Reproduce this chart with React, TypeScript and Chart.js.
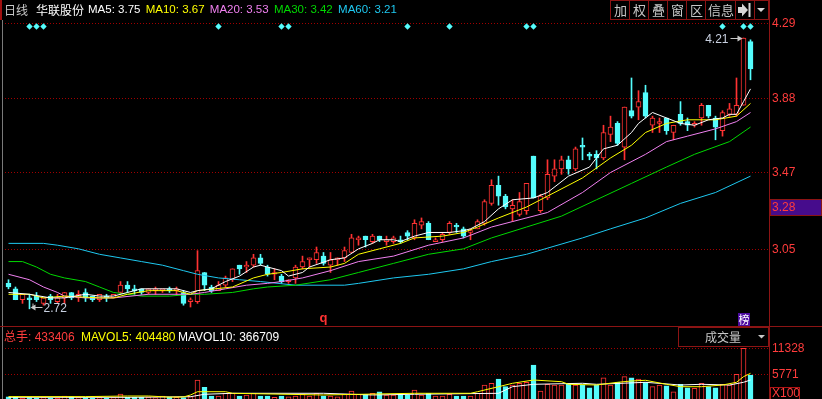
import React, { useEffect, useRef } from 'react';
import { Chart, registerables } from 'chart.js';

Chart.register(...registerables);

// ---------------- data ----------------
const OPEN = [2.86,2.83,2.77,2.78,2.79,2.75,2.79,2.76,2.78,2.81, 2.78,2.81,2.79,2.77,2.79,2.78,2.81,2.85,2.83,2.83, 2.81,2.82,2.82,2.83,2.82,2.81,2.76,2.76,2.92,2.84, 2.82,2.85,2.88,2.96,2.95,2.96,3.00,2.95,2.91,2.90, 2.87,2.89,2.95,2.99,2.99,3.01,2.96,2.99,3.00,3.03, 3.10,3.12,3.09,3.12,3.09,3.09,3.10,3.14,3.11,3.18, 3.19,3.09,3.10,3.14,3.18,3.16,3.14,3.16,3.19,3.30, 3.40,3.34,3.27,3.24,3.26,3.56,3.26,3.33,3.45,3.49, 3.54,3.49,3.62,3.57,3.57,3.55,3.68,3.74,3.61,3.81, 3.83,3.91,3.73,3.74,3.77,3.69,3.79,3.75,3.73,3.77, 3.84,3.77,3.70,3.79,3.79,3.84,4.19];
const HIGH = [2.88,2.84,2.80,2.80,2.81,2.78,2.80,2.80,2.81,2.81, 2.82,2.83,2.79,2.80,2.80,2.80,2.87,2.87,2.85,2.83, 2.83,2.84,2.83,2.84,2.84,2.82,2.78,3.04,2.92,2.85, 2.87,2.90,2.94,2.96,2.98,3.02,3.02,2.96,2.94,2.91, 2.88,2.96,3.01,3.00,3.06,3.03,3.03,3.00,3.06,3.13, 3.12,3.12,3.13,3.12,3.12,3.12,3.12,3.15,3.21,3.22, 3.20,3.11,3.14,3.20,3.19,3.17,3.16,3.21,3.32,3.43, 3.45,3.35,3.32,3.36,3.41,3.56,3.35,3.54,3.54,3.56, 3.56,3.61,3.66,3.58,3.59,3.73,3.78,3.75,3.83,3.99, 3.92,3.95,3.78,3.77,3.77,3.73,3.86,3.77,3.75,3.85, 3.84,3.78,3.81,3.85,3.99,4.21,4.20];
const LOW = [2.83,2.77,2.75,2.72,2.76,2.74,2.75,2.75,2.75,2.77, 2.76,2.76,2.76,2.76,2.76,2.78,2.80,2.81,2.80,2.80, 2.80,2.80,2.81,2.81,2.80,2.74,2.73,2.75,2.82,2.81, 2.82,2.84,2.87,2.91,2.92,2.95,2.96,2.90,2.88,2.86, 2.86,2.86,2.94,2.95,2.97,2.96,2.92,2.96,2.98,3.03, 3.07,3.06,3.08,3.09,3.07,3.08,3.08,3.10,3.10,3.16, 3.10,3.09,3.09,3.13,3.14,3.11,3.10,3.16,3.18,3.29, 3.29,3.27,3.20,3.23,3.24,3.33,3.25,3.32,3.42,3.46, 3.46,3.48,3.54,3.54,3.49,3.54,3.64,3.62,3.54,3.77, 3.76,3.77,3.69,3.69,3.68,3.65,3.73,3.70,3.72,3.73, 3.77,3.65,3.67,3.78,3.78,3.84,3.98];
const CLOSE = [2.84,2.77,2.80,2.77,2.77,2.78,2.77,2.78,2.81,2.78, 2.80,2.78,2.77,2.80,2.78,2.80,2.85,2.83,2.82,2.81, 2.83,2.83,2.83,2.82,2.83,2.75,2.77,2.93,2.85,2.82, 2.85,2.89,2.94,2.94,2.96,3.00,2.97,2.91,2.92,2.87, 2.88,2.95,2.98,3.00,3.03,2.97,2.99,3.00,3.04,3.11, 3.11,3.10,3.12,3.10,3.10,3.11,3.09,3.12,3.19,3.20, 3.10,3.10,3.13,3.19,3.17,3.12,3.15,3.20,3.31,3.40, 3.34,3.28,3.29,3.31,3.41,3.33,3.34,3.46,3.49,3.54, 3.49,3.60,3.61,3.56,3.55,3.69,3.72,3.63,3.83,3.78, 3.86,3.78,3.77,3.75,3.70,3.73,3.74,3.73,3.74,3.84, 3.78,3.72,3.80,3.82,3.84,4.21,4.04];
const VOLUME = [980,980,700,800,700,800,700,700,1130,980, 800,800,700,800,700,800,1560,850,850,850, 900,800,1130,850,850,800,1000,4550,2990,1130, 1130,1710,1710,1130,1350,1710,1130,1130,850,1130, 980,1130,1560,1130,1710,1130,1130,980,1560,2200, 1500,1500,1710,2050,1350,1350,1500,1350,2415,1350, 1710,1130,1130,1500,1130,1130,1130,1710,3480,3850, 4765,3120,3480,3850,4060,7760,2200,3630,3480,3480, 3630,3480,3480,2900,3480,5040,3480,4060,5260,5040, 4770,4060,3120,3480,3330,2050,3630,2900,2780,3850, 3120,2900,3630,3480,5770,11328,5620];

// moving averages: [day index, value]
const MA5 = [[0,2.81],[3,2.80],[6,2.78],[8,2.78],[11,2.80],[13,2.79],[15,2.79],[17,2.81],[19,2.83],[22,2.83],[24,2.83],[26,2.81],[27,2.82],[29,2.83],[31,2.87],[33,2.90],[35,2.95],[36,2.96],[37,2.95],[39,2.93],[40,2.90],[42,2.92],[43,2.95],[46,2.99],[48,3.00],[50,3.05],[52,3.08],[53,3.10],[55,3.10],[56,3.09],[58,3.12],[60,3.14],[63,3.14],[65,3.15],[66,3.16],[68,3.20],[70,3.27],[72,3.32],[75,3.33],[77,3.36],[80,3.45],[83,3.50],[85,3.60],[87,3.62],[89,3.69],[90,3.74],[91,3.77],[92,3.80],[94,3.77],[96,3.74],[98,3.73],[100,3.76],[102,3.77],[103,3.79],[104,3.79],[105,3.86],[106,3.93]];
const MA10 = [[0,2.80],[3,2.80],[5,2.78],[8,2.79],[13,2.78],[15,2.78],[17,2.80],[20,2.82],[24,2.82],[26,2.80],[27,2.82],[32,2.84],[35,2.89],[37,2.91],[39,2.92],[42,2.94],[46,2.95],[48,2.97],[50,3.02],[53,3.05],[56,3.08],[58,3.11],[62,3.12],[65,3.14],[67,3.17],[70,3.22],[74,3.28],[77,3.34],[82,3.44],[86,3.55],[89,3.62],[91,3.69],[94,3.74],[97,3.76],[101,3.76],[104,3.78],[106,3.85]];
const MA20 = [[0,2.91],[3,2.88],[5,2.84],[7,2.81],[8,2.79],[11,2.78],[15,2.78],[20,2.80],[26,2.80],[28,2.81],[31,2.83],[34,2.85],[37,2.86],[39,2.87],[42,2.89],[46,2.93],[50,2.98],[55,3.01],[60,3.07],[65,3.11],[69,3.17],[72,3.20],[77,3.25],[82,3.36],[86,3.47],[91,3.57],[94,3.64],[97,3.67],[101,3.71],[104,3.75],[106,3.80]];
const MA30 = [[0,2.98],[2,2.98],[4,2.95],[6,2.91],[8,2.89],[11,2.87],[13,2.84],[15,2.81],[17,2.80],[19,2.79],[23,2.79],[26,2.80],[28,2.80],[32,2.81],[35,2.83],[37,2.84],[41,2.85],[46,2.88],[50,2.92],[55,2.97],[60,3.02],[65,3.05],[69,3.11],[74,3.17],[79,3.23],[84,3.32],[89,3.41],[94,3.50],[98,3.57],[103,3.64],[106,3.72]];
const MA60 = [[0,3.08],[5,3.08],[7,3.07],[10,3.05],[13,3.02],[16,3.00],[19,2.98],[22,2.96],[25,2.93],[27,2.91],[30,2.89],[33,2.88],[36,2.87],[41,2.85],[48,2.85],[50,2.86],[55,2.89],[60,2.91],[65,2.94],[69,2.98],[74,3.02],[82,3.11],[86,3.16],[91,3.22],[96,3.30],[101,3.36],[106,3.45]];
const MAVOL5 = [[0,1000],[11,1000],[17,1130],[20,1130],[23,900],[25,920],[26,1350],[27,2050],[31,2050],[32,1710],[45,1350],[58,1710],[66,1710],[67,2050],[70,3120],[72,3850],[75,4550],[79,4190],[80,3630],[84,3480],[87,4060],[89,4340],[91,4490],[94,3630],[96,3120],[99,3120],[102,3480],[104,4060],[105,5260],[106,5980]];
const MAVOL10 = [[0,850],[17,850],[26,980],[28,1500],[32,1710],[45,1710],[52,1350],[58,1500],[70,1710],[72,3120],[75,3630],[82,3850],[84,3630],[91,4060],[96,3480],[99,3630],[103,3480],[105,4060],[106,4550]];

const PRICE_TICKS = [4.29, 3.88, 3.47, 3.05];
const PRICE_TICK_LABELS = ['4.29', '3.88', '3.47', '3.05'];
const VOL_TICKS = [11328, 5771];
const VOL_TICK_LABELS = ['11328', '5771'];
const CURRENT_PRICE = 3.28;
const CURRENT_LABEL = '3.28';
const MARKER_DAYS = [3, 4, 5, 30, 39, 40, 57, 63, 74, 75, 102, 105, 106];
const MARKER_LEVEL = 4.273;
const HIGH_MARK_DAY = 105, HIGH_MARK_VALUE = 4.21, HIGH_MARK_LABEL = '4.21';
const LOW_MARK_DAY = 3, LOW_MARK_VALUE = 2.72, LOW_MARK_LABEL = '2.72';
const Q_MARK_DAY = 45;
const BANG_MARK_DAY = 105;
const MA_NAMES = ['MA5', 'MA10', 'MA20', 'MA30', 'MA60'];
const MA_VALUES = ['3.75', '3.67', '3.53', '3.42', '3.21'];
const VOL_HEADER_NAMES = ['总手', 'MAVOL5', 'MAVOL10'];
const VOL_HEADER_VALUES = ['433406', '404480', '366709'];
const BUTTONS = ['加', '权', '叠', '窗', '区', '信息'];

// ---------------- style / geometry ----------------
const W = 822;
const PRICE_H = 327;
const VOL_H = 72;
const PLOT_LEFT = 5;
const PLOT_RIGHT = 769;
const STEP = 7;
const X_MIN = -0.5;
const X_MAX = X_MIN + (PLOT_RIGHT - PLOT_LEFT) / STEP;
const PRICE_MIN = 2.642;
const PRICE_MAX = 4.397;
const VOL_MIN = 491;
const VOL_MAX = 15878;

const RED = '#ff3232';
const CYAN = '#54fcfc';
const LABEL_RED = '#ff3c3c';
const GRID = '#a00000';
const AXIS = '#8c1414';
const MA_COLORS = ['#ffffff', '#ffff00', '#f080f0', '#00d800', '#1ec8f0'];
const NUM_FONT = '"Liberation Sans", Arial, "Noto Sans CJK SC", sans-serif';
const CJK_FONT = '"Noto Sans CJK SC", sans-serif';

function dotted(ctx: CanvasRenderingContext2D, y: number) {
  ctx.fillStyle = GRID;
  for (let x = PLOT_LEFT; x < PLOT_RIGHT; x += 3) ctx.fillRect(x, y, 1, 1);
}

const pricePlugin = {
  id: 'pricePane',
  beforeDatasetsDraw(chart: any) {
    const ctx = chart.ctx as CanvasRenderingContext2D;
    const ys = chart.scales.y;
    ctx.save();
    PRICE_TICKS.forEach((v) => dotted(ctx, Math.round(ys.getPixelForValue(v))));
    ctx.restore();
  },
  afterDraw(chart: any) {
    const ctx = chart.ctx as CanvasRenderingContext2D;
    const ys = chart.scales.y;
    const xs = chart.scales.x;
    ctx.save();
    // borders
    ctx.fillStyle = '#a01010';
    ctx.fillRect(0, 0, 2, 20);
    ctx.fillStyle = '#7a7a7a';
    ctx.fillRect(2, 20, 1, PRICE_H - 20);
    ctx.fillStyle = AXIS;
    ctx.fillRect(PLOT_RIGHT, 0, 1, PRICE_H);
    ctx.fillRect(0, PRICE_H - 1, W, 1);

    // price tick labels
    ctx.textBaseline = 'middle';
    ctx.textAlign = 'left';
    ctx.font = '12px ' + NUM_FONT;
    ctx.fillStyle = LABEL_RED;
    PRICE_TICKS.forEach((v, k) => {
      ctx.fillText(PRICE_TICK_LABELS[k], 772, Math.round(ys.getPixelForValue(v)) + 1);
    });
    // current price box
    const cy = Math.round(ys.getPixelForValue(CURRENT_PRICE));
    ctx.fillStyle = '#460c8c';
    ctx.fillRect(770, cy - 8, 52, 17);
    ctx.strokeStyle = '#8c1414';
    ctx.lineWidth = 1;
    ctx.strokeRect(770.5, cy - 7.5, 51, 16);
    ctx.fillStyle = LABEL_RED;
    ctx.fillText(CURRENT_LABEL, 772, cy + 1);

    // header
    ctx.font = '12px ' + CJK_FONT;
    ctx.fillStyle = '#c8c8c8';
    ctx.fillText('日线', 4, 10);
    ctx.fillStyle = '#ffffff';
    ctx.fillText('华联股份', 36, 10);
    ctx.font = '11.5px ' + NUM_FONT;
    let hx = 88;
    MA_NAMES.forEach((n, k) => {
      const t = n + ': ' + MA_VALUES[k];
      ctx.fillStyle = MA_COLORS[k];
      ctx.fillText(t, hx, 10);
      hx += ctx.measureText(t).width + 5.3;
    });

    // buttons
    const edges = [610, 629, 648, 667, 686, 705, 735, 754, 768];
    ctx.fillStyle = '#000';
    ctx.fillRect(610, 0, 159, 20);
    ctx.strokeStyle = '#8c1414';
    for (let k = 0; k < edges.length - 1; k++) {
      ctx.strokeRect(edges[k] + 0.5, 0.5, edges[k + 1] - edges[k], 19);
    }
    ctx.font = '13px ' + CJK_FONT;
    ctx.fillStyle = '#c8c8c8';
    ctx.textAlign = 'center';
    BUTTONS.forEach((b, k) => ctx.fillText(b, (edges[k] + edges[k + 1]) / 2 + 1, 10));
    // jump icon
    ctx.fillStyle = '#d8d8d8';
    ctx.fillRect(738, 7, 5, 6);
    ctx.beginPath();
    ctx.moveTo(742, 3.5);
    ctx.lineTo(748, 10);
    ctx.lineTo(742, 16.5);
    ctx.closePath();
    ctx.fill();
    ctx.fillRect(748.5, 3, 2, 14);
    // dropdown
    ctx.beginPath();
    ctx.moveTo(757, 8);
    ctx.lineTo(765, 8);
    ctx.lineTo(761, 12);
    ctx.closePath();
    ctx.fill();

    // high / low marks
    ctx.strokeStyle = '#c8c8c8';
    ctx.fillStyle = '#c8c8c8';
    const px = xs.getPixelForValue(HIGH_MARK_DAY);
    const py = Math.round(ys.getPixelForValue(HIGH_MARK_VALUE)) + 0.5;
    ctx.beginPath();
    ctx.moveTo(px - 13, py);
    ctx.lineTo(px - 3, py);
    ctx.stroke();
    ctx.beginPath();
    ctx.moveTo(px - 1, py);
    ctx.lineTo(px - 6, py - 3);
    ctx.lineTo(px - 6, py + 3);
    ctx.closePath();
    ctx.fill();
    ctx.font = '12px ' + NUM_FONT;
    ctx.fillStyle = '#c8d0e0';
    ctx.textAlign = 'right';
    ctx.fillText(HIGH_MARK_LABEL, px - 15, py + 1);

    const lx = xs.getPixelForValue(LOW_MARK_DAY);
    const ly = Math.round(ys.getPixelForValue(LOW_MARK_VALUE)) - 1.5;
    ctx.strokeStyle = '#c8c8c8';
    ctx.fillStyle = '#c8c8c8';
    ctx.beginPath();
    ctx.moveTo(lx + 3, ly);
    ctx.lineTo(lx + 13, ly);
    ctx.moveTo(lx + 3.5, ly - 4);
    ctx.lineTo(lx + 3.5, ly);
    ctx.stroke();
    ctx.beginPath();
    ctx.moveTo(lx + 1, ly);
    ctx.lineTo(lx + 6, ly - 3);
    ctx.lineTo(lx + 6, ly + 3);
    ctx.closePath();
    ctx.fill();
    ctx.fillStyle = '#c8d0e0';
    ctx.textAlign = 'left';
    ctx.fillText(LOW_MARK_LABEL, lx + 14, ly + 1);

    // q mark
    ctx.font = 'bold 13px ' + NUM_FONT;
    ctx.fillStyle = RED;
    ctx.textAlign = 'center';
    ctx.textBaseline = 'alphabetic';
    ctx.fillText('q', xs.getPixelForValue(Q_MARK_DAY), 321.5);
    // 榜 mark
    const bx = Math.round(xs.getPixelForValue(BANG_MARK_DAY));
    ctx.fillStyle = '#4c0ca0';
    ctx.fillRect(bx - 6, 313, 12, 13);
    ctx.fillStyle = '#ffffff';
    ctx.font = '11px ' + CJK_FONT;
    ctx.textBaseline = 'middle';
    ctx.fillText('榜', bx, 320);
    ctx.restore();
  },
};

const volPlugin = {
  id: 'volPane',
  beforeDatasetsDraw(chart: any) {
    const ctx = chart.ctx as CanvasRenderingContext2D;
    const ys = chart.scales.y;
    ctx.save();
    VOL_TICKS.forEach((v) => dotted(ctx, Math.round(ys.getPixelForValue(v))));
    ctx.restore();
  },
  afterDraw(chart: any) {
    const ctx = chart.ctx as CanvasRenderingContext2D;
    const ys = chart.scales.y;
    ctx.save();
    ctx.fillStyle = '#7a7a7a';
    ctx.fillRect(2, 0, 1, VOL_H);
    ctx.fillStyle = AXIS;
    ctx.fillRect(PLOT_RIGHT, 0, 1, VOL_H);

    ctx.textBaseline = 'middle';
    ctx.textAlign = 'left';
    ctx.font = '12px ' + NUM_FONT;
    ctx.fillStyle = LABEL_RED;
    VOL_TICKS.forEach((v, k) => ctx.fillText(VOL_TICK_LABELS[k], 772, Math.round(ys.getPixelForValue(v)) + 1));
    ctx.strokeStyle = '#b01414';
    ctx.strokeRect(770.5, 60.5, 29, 12);
    ctx.fillText('X100', 772, 67);

    // header
    const colors = [LABEL_RED, '#ffff00', '#ffffff'];
    const xs0 = [4, 81, 178];
    VOL_HEADER_NAMES.forEach((n, k) => {
      ctx.fillStyle = colors[k];
      ctx.fillText(n + ': ' + VOL_HEADER_VALUES[k], xs0[k], 11);
    });

    // selector box
    ctx.fillStyle = '#000';
    ctx.fillRect(679, 1, 89, 18);
    ctx.strokeStyle = '#8c1414';
    ctx.strokeRect(678.5, 0.5, 90, 19);
    ctx.fillStyle = '#c8c8c8';
    ctx.font = '12px ' + CJK_FONT;
    ctx.fillText('成交量', 705, 10);
    ctx.beginPath();
    ctx.moveTo(758, 8);
    ctx.lineTo(765, 8);
    ctx.lineTo(761.5, 11.5);
    ctx.closePath();
    ctx.fill();
    ctx.restore();
  },
};

function lineSet(label: string, pts: number[][], color: string) {
  return {
    type: 'line' as const,
    label,
    data: pts.map(([x, y]) => ({ x, y })),
    borderColor: color,
    borderWidth: 1,
    pointRadius: 0,
    pointHoverRadius: 0,
    tension: 0,
    order: 0,
  };
}

function baseOptions(min: number, max: number) {
  return {
    responsive: false,
    maintainAspectRatio: false,
    animation: false as const,
    events: [] as any[],
    layout: { padding: { left: PLOT_LEFT, right: W - PLOT_RIGHT, top: 0, bottom: 0 } },
    scales: {
      x: { type: 'linear' as const, min: X_MIN, max: X_MAX, display: false, offset: false },
      y: { type: 'linear' as const, min, max, display: false },
    },
    plugins: { legend: { display: false }, tooltip: { enabled: false } },
  };
}

export default function App() {
  const priceRef = useRef<HTMLCanvasElement>(null);
  const volRef = useRef<HTMLCanvasElement>(null);

  useEffect(() => {
    document.body.style.margin = '0';
    document.body.style.background = '#000';
    const up = CLOSE.map((c, i) => c >= OPEN[i]);
    const days = OPEN.map((_, i) => i);

    const price = new Chart(priceRef.current as HTMLCanvasElement, {
      type: 'bar',
      data: {
        datasets: [
          lineSet('MA5', MA5, MA_COLORS[0]),
          lineSet('MA10', MA10, MA_COLORS[1]),
          lineSet('MA20', MA20, MA_COLORS[2]),
          lineSet('MA30', MA30, MA_COLORS[3]),
          lineSet('MA60', MA60, MA_COLORS[4]),
          {
            type: 'line',
            label: 'markers',
            data: MARKER_DAYS.map((x) => ({ x, y: MARKER_LEVEL })),
            showLine: false,
            pointStyle: 'rectRot',
            pointRadius: 3.2,
            pointBackgroundColor: CYAN,
            pointBorderColor: CYAN,
            pointBorderWidth: 0,
            order: 0,
          },
          {
            type: 'bar',
            label: 'body',
            data: days.map((i) => ({ x: i, y: [Math.min(OPEN[i], CLOSE[i]), Math.max(OPEN[i], CLOSE[i])] })),
            backgroundColor: up.map((u) => (u ? '#000000' : CYAN)),
            borderColor: up.map((u) => (u ? RED : CYAN)),
            borderWidth: 1,
            borderSkipped: false,
            barThickness: 5,
            minBarLength: 1,
            grouped: false,
            order: 1,
          },
          {
            type: 'bar',
            label: 'wick',
            data: days.map((i) => ({ x: i, y: [LOW[i], HIGH[i]] })),
            backgroundColor: up.map((u) => (u ? RED : CYAN)),
            borderWidth: 0,
            barThickness: 1,
            grouped: false,
            order: 2,
          },
        ] as any,
      },
      options: baseOptions(PRICE_MIN, PRICE_MAX) as any,
      plugins: [pricePlugin],
    });

    const vol = new Chart(volRef.current as HTMLCanvasElement, {
      type: 'bar',
      data: {
        datasets: [
          lineSet('MAVOL5', MAVOL5, '#ffff00'),
          lineSet('MAVOL10', MAVOL10, '#ffffff'),
          {
            type: 'bar',
            label: 'volume',
            data: days.map((i) => ({ x: i, y: VOLUME[i] })),
            backgroundColor: up.map((u) => (u ? '#000000' : CYAN)),
            borderColor: up.map((u) => (u ? RED : CYAN)),
            borderWidth: 1,
            barThickness: 5,
            grouped: false,
            order: 1,
          },
        ] as any,
      },
      options: baseOptions(VOL_MIN, VOL_MAX) as any,
      plugins: [volPlugin],
    });

    return () => {
      price.destroy();
      vol.destroy();
    };
  }, []);

  return (
    <div style={{ position: 'fixed', left: 0, top: 0, width: W, height: PRICE_H + VOL_H, background: '#000' }}>
      <canvas ref={priceRef} width={W} height={PRICE_H} style={{ position: 'absolute', left: 0, top: 0, display: 'block' }} />
      <canvas ref={volRef} width={W} height={VOL_H} style={{ position: 'absolute', left: 0, top: PRICE_H, display: 'block' }} />
    </div>
  );
}
